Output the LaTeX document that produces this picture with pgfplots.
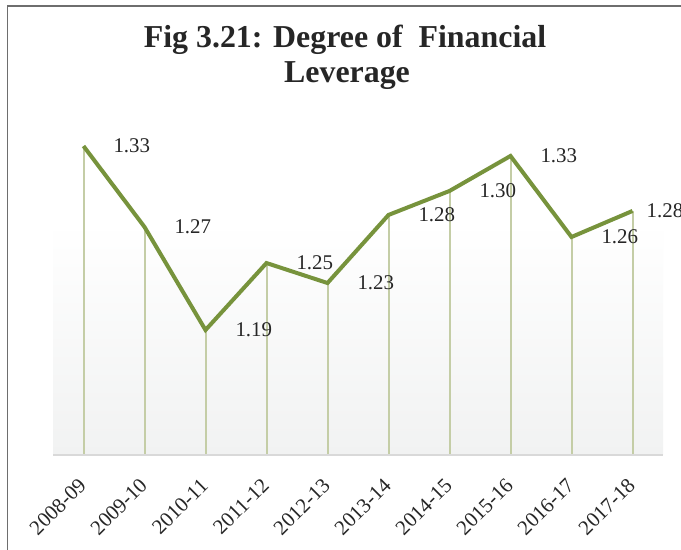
\documentclass[border=0pt]{standalone}
\usepackage{fontspec}
\setmainfont{Liberation Serif}
\usepackage{pgfplots}
\pgfplotsset{compat=1.18}
\definecolor{lineg}{HTML}{77933C}
\definecolor{dropg}{HTML}{C4CDA6}
\definecolor{basegray}{HTML}{D9D9D9}
\definecolor{bggray}{HTML}{F1F2F2}
\definecolor{txt}{HTML}{262626}
\definecolor{frame}{HTML}{6E6E6E}
\begin{document}
\begin{tikzpicture}
\useasboundingbox (0,0) rectangle (681bp,550bp);
\fill[white] (0,0) rectangle (681bp,550bp);
\draw[frame, line width=1.5bp] (7.5bp,0) -- (7.5bp,544bp) -- (681bp,544bp);
\node[font=\bfseries\fontsize{32}{36}\selectfont, anchor=base, txt] at (345bp,502bp) {Fig 3.21: Degree of\ \ Financial};
\node[font=\bfseries\fontsize{32}{36}\selectfont, anchor=base, txt] at (347bp,467bp) {Leverage};
\shade[top color=white, bottom color=bggray] (53bp,95bp) rectangle (663bp,328bp);
\begin{axis}[
  at={(53bp,95bp)}, anchor=south west,
  scale only axis, width=610bp, height=344.5bp,
  xmin=-0.5, xmax=9.5, ymin=1.10, ymax=1.35,
  axis line style={draw=none},
  ytick=\empty,
  xtick={0,...,9},
  xticklabels={2008-09,2009-10,2010-11,2011-12,2012-13,2013-14,2014-15,2015-16,2016-17,2017-18},
  major tick length=0pt,
  tick style={draw=none},
  xticklabel style={inner sep=0pt, xshift=-1bp, yshift=-27bp, rotate=45, anchor=east,
    font=\fontsize{21}{21}\selectfont, text=txt},
]
\addplot[ycomb, dropg, line width=2bp, mark=none] coordinates {
  (0,1.3242) (1,1.2655) (2,1.1907) (3,1.2393) (4,1.2248)
  (5,1.2742) (6,1.2916) (7,1.3170) (8,1.2582) (9,1.2771)
};
\addplot[lineg, line width=4bp, mark=none, line join=miter,
  point meta=explicit symbolic,
  nodes near coords,
  nodes near coords style={anchor=west, inner sep=0pt, xshift=28bp, yshift=0pt,
    font=\fontsize{21}{21}\selectfont, text=txt},
] coordinates {
  (0,1.3242) [1.33]
  (1,1.2655) [1.27]
  (2,1.1907) [1.19]
  (3,1.2393) [1.25]
  (4,1.2248) [1.23]
  (5,1.2742) [1.28]
  (6,1.2916) [1.30]
  (7,1.3170) [1.33]
  (8,1.2582) [1.26]
  (9,1.2771) []
};
\addplot[draw=none, mark=none,
  point meta=explicit symbolic,
  nodes near coords,
  nodes near coords style={anchor=west, inner sep=0pt, xshift=14bp, yshift=0pt,
    font=\fontsize{21}{21}\selectfont, text=txt},
] coordinates {
  (9,1.2771) [1.28]
};
\end{axis}
\draw[basegray, line width=2bp] (53bp,95bp) -- (663bp,95bp);
\end{tikzpicture}
\end{document}
